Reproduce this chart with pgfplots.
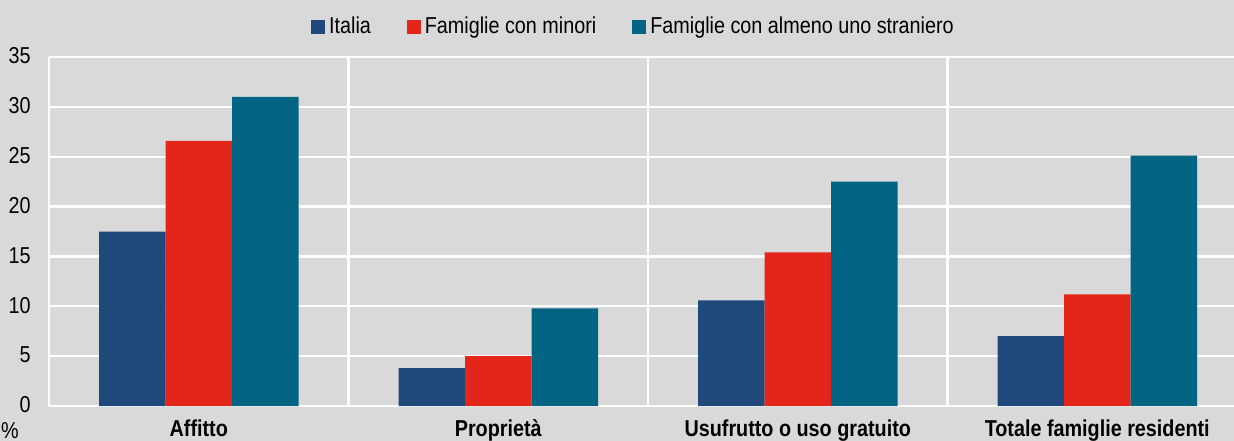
\documentclass[border=0pt]{standalone}
\usepackage{pgfplots}
\pgfplotsset{compat=1.18}
\usepackage{fontspec}
\setmainfont{Liberation Sans}[FakeStretch=0.86]
\definecolor{bgc}{RGB}{217,217,217}
\definecolor{cita}{RGB}{32,73,123}
\definecolor{cmin}{RGB}{227,38,25}
\definecolor{cstr}{RGB}{0,100,130}
\begin{document}
\fontsize{11.5bp}{13bp}\selectfont
\begin{tikzpicture}
\fill[bgc] (0,0) rectangle (617bp,220.5bp);
\useasboundingbox (0,0) rectangle (617bp,220.5bp);
\begin{scope}
\clip (0,0) rectangle (617bp,220.5bp);
\begin{axis}[
  at={(24.5bp,17.5bp)}, anchor=south west,
  scale only axis, width=599bp, height=174.5bp,
  xmin=-0.5, xmax=3.5, ymin=0, ymax=35,
  ybar=0pt, bar width=33.25bp,
  axis line style={draw=none},
  major tick length=0pt,
  ytick={0,5,...,35},
  ymajorgrids, grid style={white, line width=1.1bp},
  xtick={0,1,2,3},
  xticklabels={Affitto,Proprietà,Usufrutto o uso gratuito,Totale famiglie residenti},
  xticklabel style={font=\fontsize{11.5bp}{13bp}\selectfont\bfseries, anchor=base, yshift=-15.0bp},
  yticklabel style={font=\fontsize{11.5bp}{13bp}\selectfont, anchor=east, inner sep=0pt, xshift=-9bp, yshift=0.6bp},
  extra x ticks={-0.5,0.5,1.5,2.5},
  extra x tick labels={},
  extra x tick style={xmajorgrids=true, grid style={white, line width=1.1bp}},
  /pgf/number format/assume math mode=true,
  legend style={draw=none, fill=none, at={(0.4887,1.085)}, anchor=center,
    legend columns=-1, font=\fontsize{11.5bp}{13bp}\selectfont,
    /tikz/every even column/.append style={column sep=16bp}},
  legend image code/.code={\fill[#1] (0bp,-3.5bp) rectangle (7bp,3.5bp);},
  clip=false,
]
\addplot[fill=cita, draw=none] coordinates {(0,17.5) (1,3.8) (2,10.6) (3,7.0)};
\addplot[fill=cmin, draw=none] coordinates {(0,26.6) (1,5.0) (2,15.4) (3,11.2)};
\addplot[fill=cstr, draw=none] coordinates {(0,31.0) (1,9.8) (2,22.5) (3,25.1)};
\legend{Italia,Famiglie con minori,Famiglie con almeno uno straniero}
\end{axis}
\end{scope}
\node[anchor=base, inner sep=0pt] at (5bp,1.2bp) {\%};
\end{tikzpicture}
\end{document}
